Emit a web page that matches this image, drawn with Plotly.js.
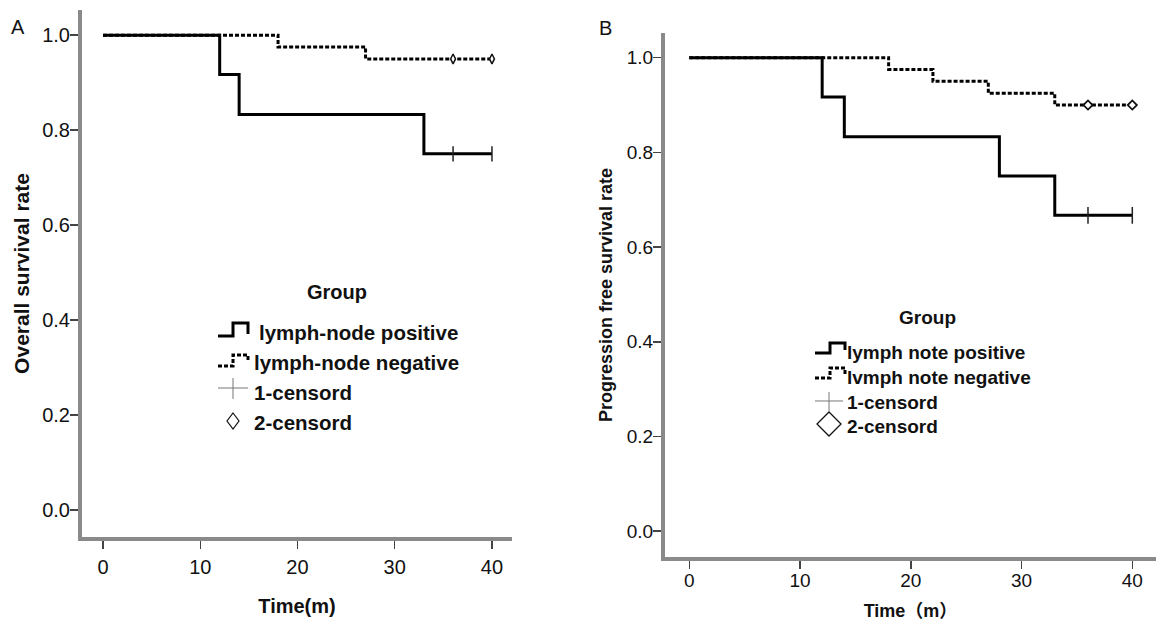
<!DOCTYPE html>
<html>
<head>
<meta charset="utf-8">
<script src="https://cdn.plot.ly/plotly-3.0.1.min.js"></script>
<style>html,body{margin:0;padding:0;background:#fff;}#chart{width:1156px;height:621px;}</style>
</head>
<body>
<div id="chart"></div>
<script>
// ---------- Data ----------
// Panel A: Overall survival
const timeA_pos = [0, 12, 14, 33, 40];
const survA_pos = [1.0, 0.917, 0.833, 0.75, 0.75];
const timeA_neg = [0, 18, 27, 40];
const survA_neg = [1.0, 0.975, 0.95, 0.95];
const censA_pos_t = [36, 40];
const censA_pos_s = [0.75, 0.75];
const censA_neg_t = [36, 40];
const censA_neg_s = [0.95, 0.95];

// Panel B: Progression free survival
const timeB_pos = [0, 12, 14, 28, 33, 40];
const survB_pos = [1.0, 0.917, 0.833, 0.75, 0.667, 0.667];
const timeB_neg = [0, 18, 22, 27, 33, 40];
const survB_neg = [1.0, 0.975, 0.95, 0.925, 0.9, 0.9];
const censB_pos_t = [36, 40];
const censB_pos_s = [0.667, 0.667];
const censB_neg_t = [36, 40];
const censB_neg_s = [0.9, 0.9];

const xTicks = [0, 10, 20, 30, 40];
const yTicks = [0, 0.2, 0.4, 0.6, 0.8, 1.0];

const legendTitle = "Group";
const legendA = ["lymph-node positive", "lymph-node negative", "1-censord", "2-censord"];
const legendB = ["lymph note positive", "lvmph note negative", "1-censord", "2-censord"];

// ---------- Styling helpers ----------
const W = 1156, H = 621;
const FONT = "Liberation Sans, Arial, Helvetica, sans-serif";
const X = p => p / W;
const Y = p => 1 - p / H;
const DOT = "4px,2px";

function stepTrace(t, s, xa, ya, dotted) {
  return {x: t, y: s, xaxis: xa, yaxis: ya, type: "scatter", mode: "lines",
    line: {shape: "hv", color: "#000", width: 3, dash: dotted ? DOT : "solid"},
    showlegend: false, hoverinfo: "x+y"};
}
function crossTrace(t, s, xa, ya, size) {
  return {x: t, y: s, xaxis: xa, yaxis: ya, type: "scatter", mode: "markers",
    marker: {symbol: "line-ns", size: size, color: "#222", line: {color: "#222", width: 1.5}},
    showlegend: false, hoverinfo: "x+y"};
}
function diamondTrace(t, s, xa, ya, symbol, size, lw) {
  return {x: t, y: s, xaxis: xa, yaxis: ya, type: "scatter", mode: "markers",
    marker: {symbol: symbol, size: size, color: "#fff", line: {color: "#111", width: lw}},
    showlegend: false, hoverinfo: "x+y"};
}

const data = [
  stepTrace(timeA_neg, survA_neg, "x", "y", true),
  stepTrace(timeA_pos, survA_pos, "x", "y", false),
  crossTrace(censA_pos_t, censA_pos_s, "x", "y", 11),
  diamondTrace(censA_neg_t, censA_neg_s, "x", "y", "diamond-tall", 7, 1.5),
  stepTrace(timeB_neg, survB_neg, "x2", "y2", true),
  stepTrace(timeB_pos, survB_pos, "x2", "y2", false),
  crossTrace(censB_pos_t, censB_pos_s, "x2", "y2", 12),
  diamondTrace(censB_neg_t, censB_neg_s, "x2", "y2", "diamond", 7, 1.8)
];

function axisBase(extra) {
  return Object.assign({
    showline: true, linecolor: "#8a8a8a", linewidth: 4,
    ticks: "outside", ticklen: 8, tickwidth: 1.5, tickcolor: "#444",
    showgrid: false, zeroline: false, automargin: false, fixedrange: true,
    tickfont: {family: FONT, size: 20, color: "#111"}
  }, extra);
}

const layout = {
  width: W, height: H,
  margin: {l: 0, r: 0, t: 0, b: 0},
  paper_bgcolor: "#fff", plot_bgcolor: "#fff",
  showlegend: false,
  font: {family: FONT, color: "#111"},
  xaxis: axisBase({
    domain: [X(82), X(512)], range: [-2.16, 42.06], anchor: "y",
    tickvals: xTicks, ticklabelstandoff: 1,
    title: {text: "Time(m)", font: {family: FONT, size: 20, weight: "bold", color: "#111"}, standoff: 23}
  }),
  yaxis: axisBase({
    domain: [Y(537), Y(10)], range: [-0.057, 1.053], anchor: "x",
    tickvals: yTicks, tickformat: ".1f", ticklabelstandoff: -4,
    title: {text: "Overall survival rate", font: {family: FONT, size: 21, weight: "bold", color: "#111"}, standoff: 8}
  }),
  xaxis2: axisBase({
    domain: [X(665), 1], range: [-2.19, 42.14], anchor: "y2",
    tickvals: xTicks, ticklabelstandoff: -5,
    tickfont: {family: FONT, size: 19, color: "#111"},
    title: {text: "Time（m）", font: {family: FONT + ", Noto Sans CJK SC", size: 18, weight: "bold", color: "#111"}, standoff: 19}
  }),
  yaxis2: axisBase({
    domain: [Y(556.7), Y(33.3)], range: [-0.054, 1.0515], anchor: "x2",
    tickvals: yTicks, tickformat: ".1f", ticklabelstandoff: -4,
    tickfont: {family: FONT, size: 19, color: "#111"},
    title: {text: "Progression free survival rate", font: {family: FONT, size: 18, weight: "bold", color: "#111"}, standoff: 10}
  }),
  annotations: [],
  shapes: []
};

function ann(text, px, py, size, bold, xanchor) {
  layout.annotations.push({text: text, xref: "paper", yref: "paper", x: X(px), y: Y(py),
    xanchor: xanchor || "left", yanchor: "middle", showarrow: false,
    font: {family: FONT, size: size, color: "#111", weight: bold ? "bold" : "normal"}});
}
function path(d, color, width, dash) {
  layout.shapes.push({type: "path", xref: "paper", yref: "paper", path: d,
    line: {color: color, width: width, dash: dash || "solid"}});
}
function P(pts, close) {
  return pts.map((p, i) => (i ? "L" : "M") + X(p[0]).toFixed(5) + "," + Y(p[1]).toFixed(5)).join(" ") + (close ? " Z" : "");
}

// Panel labels
ann("A", 18, 27, 20, false, "center");
ann("B", 605, 28, 20, false, "center");

// Legend A
ann(legendTitle, 337, 292, 20, true, "center");
path(P([[218,336],[233,336],[233,323],[248,323],[248,334]]), "#000", 3);
path(P([[218,366],[233,366],[233,355],[248,355],[248,362]]), "#000", 3, DOT);
path(P([[218,388],[248,388]]), "#777", 1);
path(P([[233,378],[233,399]]), "#777", 1);
path(P([[233,413],[239,421],[233,429],[227,421]], true), "#111", 1.2);
const rowsA = [332, 362, 392, 422];
legendA.forEach((t, i) => ann(t, i === 0 ? 257 : 252, rowsA[i], 20.5, true));

// Legend B
ann(legendTitle, 927, 317, 19, true, "center");
path(P([[815,353],[830,353],[830,343],[845,343],[845,350]]), "#000", 3);
path(P([[815,378],[830,378],[830,368],[845,368],[845,375]]), "#000", 3, DOT);
path(P([[815,401],[843,401]]), "#777", 1);
path(P([[829,392],[829,411]]), "#777", 1);
path(P([[829,412],[841,424],[829,436],[817,424]], true), "#111", 1.3);
const rowsB = [352, 377, 402, 427];
legendB.forEach((t, i) => ann(t, 845, rowsB[i], 19, true));

Plotly.newPlot("chart", data, layout, {staticPlot: true, displayModeBar: false});
</script>
</body>
</html>
